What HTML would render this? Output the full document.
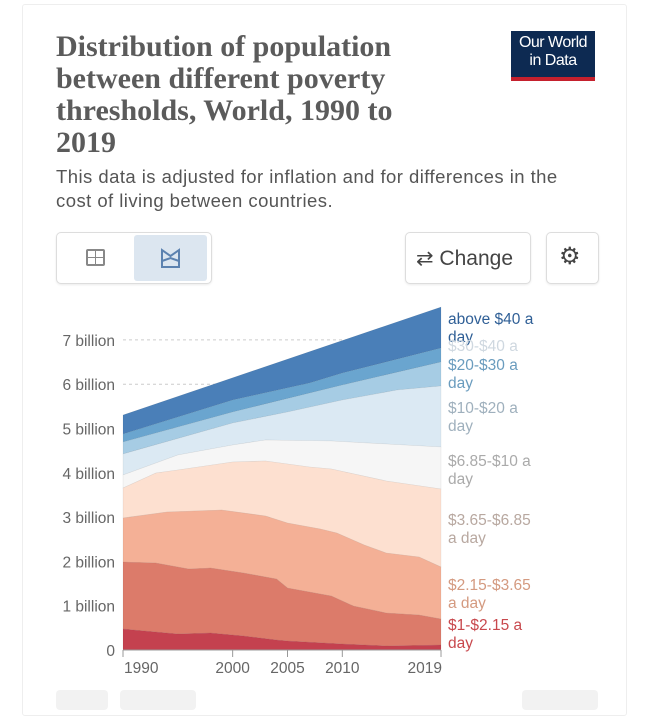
<!DOCTYPE html>
<html><head><meta charset="utf-8"><style>
body{margin:0;width:654px;height:700px;background:#fff;font-family:"Liberation Sans",sans-serif;overflow:hidden;position:relative}
.card{position:absolute;left:22px;top:4px;width:603px;height:710px;border:1px solid #eee;border-radius:3px}
.title{position:absolute;left:56px;top:31px;font-family:"Liberation Serif",serif;font-weight:bold;font-size:30px;line-height:32px;color:#5b5b5b;width:365px}
.sub{position:absolute;left:56px;top:165px;font-size:18.5px;line-height:24px;color:#555;width:580px;white-space:nowrap;letter-spacing:0.45px}
.logo{position:absolute;left:511px;top:31px;width:84px;height:43px;background:#0d2a52;border-bottom:4px solid #c5202d;color:#fff;text-align:center;font-size:16px;line-height:18px;padding-top:3px;box-sizing:content-box;letter-spacing:-0.5px}
.btn{position:absolute;border:1px solid #ddd;border-radius:5px;background:#fff;box-shadow:0 1px 2px rgba(0,0,0,.08)}
</style></head><body>
<div class="card"></div>
<div class="title">Distribution of population between different poverty thresholds, World, 1990 to 2019</div>
<div class="sub">This data is adjusted for inflation and for differences in the<br>cost of living between countries.</div>
<div class="logo">Our World<br>in Data</div>
<div class="btn" style="left:56px;top:232px;width:154px;height:50px"></div>
<div style="position:absolute;left:134px;top:235px;width:73px;height:46px;background:#dce6f0;border-radius:3px"></div>
<svg style="position:absolute;left:85px;top:248px" width="22" height="20"><rect x="1" y="1" width="19" height="17" fill="#888" rx="2"/><rect x="3" y="3" width="7" height="6" fill="#fff"/><rect x="11" y="3" width="7" height="6" fill="#fff"/><rect x="3" y="10" width="7" height="6" fill="#fff"/><rect x="11" y="10" width="7" height="6" fill="#fff"/></svg>
<svg style="position:absolute;left:160px;top:248px" width="22" height="22"><path d="M2 2 L2 19 L19 19 L19 2 L10.5 8 Z" fill="none" stroke="#5c82b0" stroke-width="2"/><path d="M2 13 L10.5 10 L19 13" fill="none" stroke="#5c82b0" stroke-width="2"/></svg>
<div class="btn" style="left:405px;top:232px;width:124px;height:50px"></div>
<div style="position:absolute;left:416px;top:246px;font-size:21px;color:#444">⇄ Change</div>
<div class="btn" style="left:546px;top:232px;width:51px;height:50px"></div>
<div style="position:absolute;left:559px;top:242px;font-size:24px;color:#444">⚙</div>
<svg id="ch" style="position:absolute;left:0;top:0" width="654" height="700"></svg>
<div style="position:absolute;left:56px;top:690px;width:52px;height:20px;background:#f2f2f2;border-radius:4px"></div>
<div style="position:absolute;left:120px;top:690px;width:76px;height:20px;background:#f2f2f2;border-radius:4px"></div>
<div style="position:absolute;left:522px;top:690px;width:76px;height:20px;background:#f2f2f2;border-radius:4px"></div>
<script>
const X=y=>123+(y-1990)*10.966;
const B=[
[[1990,415],[2019,307]],
[[1990,434],[2000,400],[2007,383],[2010,373],[2019,348]],
[[1990,442],[2000,412],[2010,385],[2019,362]],
[[1990,454],[2000,423],[2005,412],[2010,400],[2015,390],[2019,386]],
[[1990,475],[1995,455],[2000,445],[2003,440],[2009,441],[2014,444],[2019,447]],
[[1990,488],[1993,473],[1995,470],[2000,462],[2003,461],[2007,467],[2009,469],[2014,481],[2019,489]],
[[1990,518],[1994,512],[1999,510],[2003,516],[2005,523],[2008,529],[2009.5,533],[2012,545],[2014,553],[2017,557],[2019,567]],
[[1990,562],[1993,563],[1996,569],[1998,568],[2001,573],[2004,579],[2005,588],[2007,592],[2009,596],[2011,606],[2014,613],[2017,615],[2019,619]],
[[1990,629],[1993,632],[1995,634],[1998,633],[2001,636],[2004,640],[2005,641],[2010,644],[2014,646],[2019,645]],
[[1990,650],[2019,650]]];
const C=["#4a7fb8","#6aa5cf","#a6cce4","#dbe9f3","#f6f6f6","#fde0d0","#f4b096","#dc7b6a","#c4414f"];
let s='';
for(let i=1;i<=7;i++){let y=650-i*44.3;s+=`<line x1="123" x2="441" y1="${y}" y2="${y}" stroke="#ccc" stroke-dasharray="3,3"/>`;}
for(let i=0;i<9;i++){
 let top=B[i].map(p=>X(p[0])+','+p[1]).join(' ');
 let bot=B[i+1].slice().reverse().map(p=>X(p[0])+','+p[1]).join(' ');
 s+=`<polygon points="${top} ${bot}" fill="${C[i]}" stroke="rgba(0,0,0,0.08)" stroke-width="0.6"/>`;
}
const yl=["0","1 billion","2 billion","3 billion","4 billion","5 billion","6 billion","7 billion"];
yl.forEach((t,i)=>{s+=`<text x="115" y="${656-i*44.3}" text-anchor="end" font-size="15.5" fill="#666">${t}</text>`});
s+=`<line x1="123" x2="441" y1="650" y2="650" stroke="#999"/>`;
[[1990,'start'],[2000,'middle'],[2005,'middle'],[2010,'middle'],[2019,'end']].forEach(([y,a])=>{let x=X(y);s+=`<line x1="${x}" x2="${x}" y1="650" y2="657" stroke="#999"/><text x="${y==1990?x+1:y==2019?x+1:x}" y="673" text-anchor="${a}" font-size="15.5" fill="#666">${y}</text>`});
const L=[["above $40 a","day",324,"#2f5f96"],["$30-$40 a","",351,"#cfd8e0"],["$20-$30 a","day",370,"#6a9cbe"],["$10-$20 a","day",413,"#9fb0bd"],["$6.85-$10 a","day",466,"#aaa"],["$3.65-$6.85","a day",525,"#b8a8a0"],["$2.15-$3.65","a day",590,"#d49a80"],["$1-$2.15 a","day",630,"#c8484d"]];
L.forEach(([a,b,y,c],i)=>{s+=`<text x="448" y="${y}" font-size="15.5" fill="${c}">${a}</text>`;if(b)s+=`<text x="448" y="${y+18}" font-size="15.5" fill="${c}">${b}</text>`});
document.getElementById('ch').innerHTML=s;
</script>
</body></html>
